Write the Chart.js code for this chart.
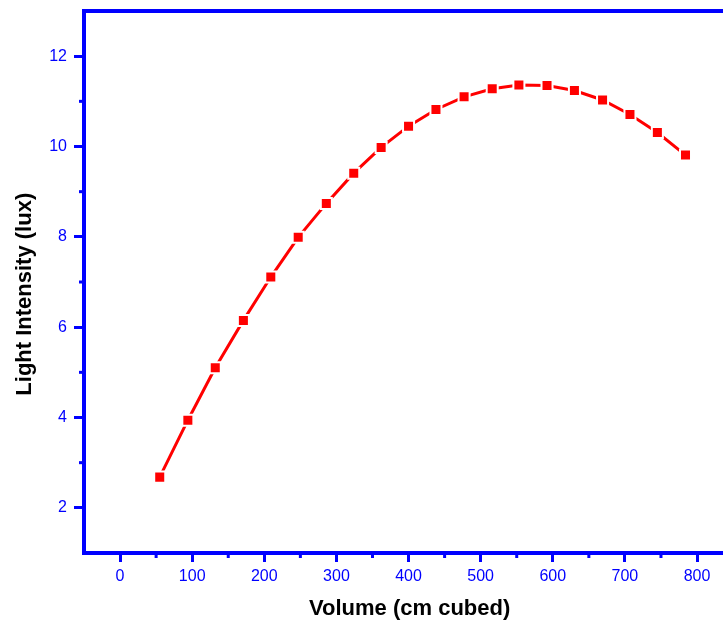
<!DOCTYPE html>
<html>
<head>
<meta charset="utf-8">
<script src="https://cdn.jsdelivr.net/npm/chart.js"></script>
<style>
  body { margin: 0; background: #fff; }
  #wrap { width: 723px; height: 622px; }
</style>
</head>
<body>
<div id="wrap"><canvas id="lightChart" width="723" height="622"></canvas></div>
<script>
// values
var volume = [55, 94, 132, 171, 209, 247, 286, 324, 362, 400, 438, 477, 516, 553, 592, 630, 669, 707, 745, 784];
var intensity = [2.68, 3.94, 5.10, 6.15, 7.11, 7.99, 8.74, 9.41, 9.98, 10.45, 10.82, 11.10, 11.28, 11.36, 11.35, 11.24, 11.03, 10.71, 10.31, 9.81];

var xTicks = [0, 100, 200, 300, 400, 500, 600, 700, 800];
var yTicks = [2, 4, 6, 8, 10, 12];
var xMinor = [50, 150, 250, 350, 450, 550, 650, 750];
var yMinor = [3, 5, 7, 9, 11];

var BLUE = "#0000ff";
var FONT = "'Liberation Sans', Arial, Helvetica, sans-serif";

var points = [];
for (var i = 0; i < volume.length; i++) {
    points.push({x: volume[i], y: intensity[i]});
}

// top frame line + minor ticks (Chart.js has no minor ticks)
var frameExtras = {
    id: 'frameExtras',
    afterDraw: function (chart) {
        var ctx = chart.ctx;
        var area = chart.chartArea;
        var xs = chart.scales.x, ys = chart.scales.y;
        ctx.save();
        ctx.fillStyle = BLUE;
        ctx.fillRect(area.left - 2, area.top - 2, area.right - area.left + 2, 4);
        xMinor.forEach(function (v) {
            var px = xs.getPixelForValue(v);
            ctx.fillRect(px - 1.5, area.bottom, 3, 5);
        });
        yMinor.forEach(function (v) {
            var py = ys.getPixelForValue(v);
            ctx.fillRect(area.left - 5, py - 1.5, 5, 3);
        });
        ctx.restore();
    }
};

var chartElem = document.getElementById("lightChart");
var lightChart = new Chart(chartElem, {
    type: 'line',
    data: {
        datasets: [
            {
                label: "Light Intensity",
                data: points,
                borderColor: "#ff0000",
                borderWidth: 3,
                tension: 0,
                fill: false,
                pointStyle: 'rect',
                pointRadius: 7.8,
                pointBackgroundColor: "#ff0000",
                pointBorderColor: "#ffffff",
                pointBorderWidth: 2,
                clip: false
            }
        ]
    },
    options: {
        responsive: false,
        animation: false,
        events: [],
        layout: {autoPadding: false, padding: {top: 11, right: 0, bottom: 0, left: 0}},
        plugins: {
            legend: {display: false},
            tooltip: {enabled: false}
        },
        scales: {
            x: {
                type: 'linear',
                min: -50,
                max: 836,
                afterBuildTicks: function (scale) {
                    scale.ticks = xTicks.map(function (v) { return {value: v}; });
                },
                afterFit: function (scale) {
                    scale.height = 69;
                    scale.paddingLeft = 0;
                    scale.paddingRight = 0;
                },
                ticks: {color: BLUE, font: {family: FONT, size: 16}, padding: 5},
                grid: {drawOnChartArea: false, drawTicks: true, tickLength: 9, tickWidth: 3, tickColor: BLUE},
                border: {color: BLUE, width: 4},
                title: {
                    display: true,
                    text: "  Volume (cm cubed)",
                    color: "#000",
                    font: {family: FONT, size: 22, weight: 'bold'},
                    padding: {top: 0, bottom: 0}
                }
            },
            y: {
                type: 'linear',
                min: 1,
                max: 13,
                afterBuildTicks: function (scale) {
                    scale.ticks = yTicks.map(function (v) { return {value: v}; });
                },
                afterFit: function (scale) {
                    scale.width = 84;
                    scale.paddingTop = 0;
                    scale.paddingBottom = 0;
                },
                ticks: {color: BLUE, font: {family: FONT, size: 16}, padding: 7},
                grid: {drawOnChartArea: false, drawTicks: true, tickLength: 10, tickWidth: 3, tickColor: BLUE},
                border: {color: BLUE, width: 4},
                title: {
                    display: true,
                    text: "Light Intensity (lux)    ",
                    color: "#000",
                    font: {family: FONT, size: 22, weight: 'bold'},
                    padding: {top: 12, bottom: 0}
                }
            }
        }
    },
    plugins: [frameExtras]
});
</script>
</body>
</html>
